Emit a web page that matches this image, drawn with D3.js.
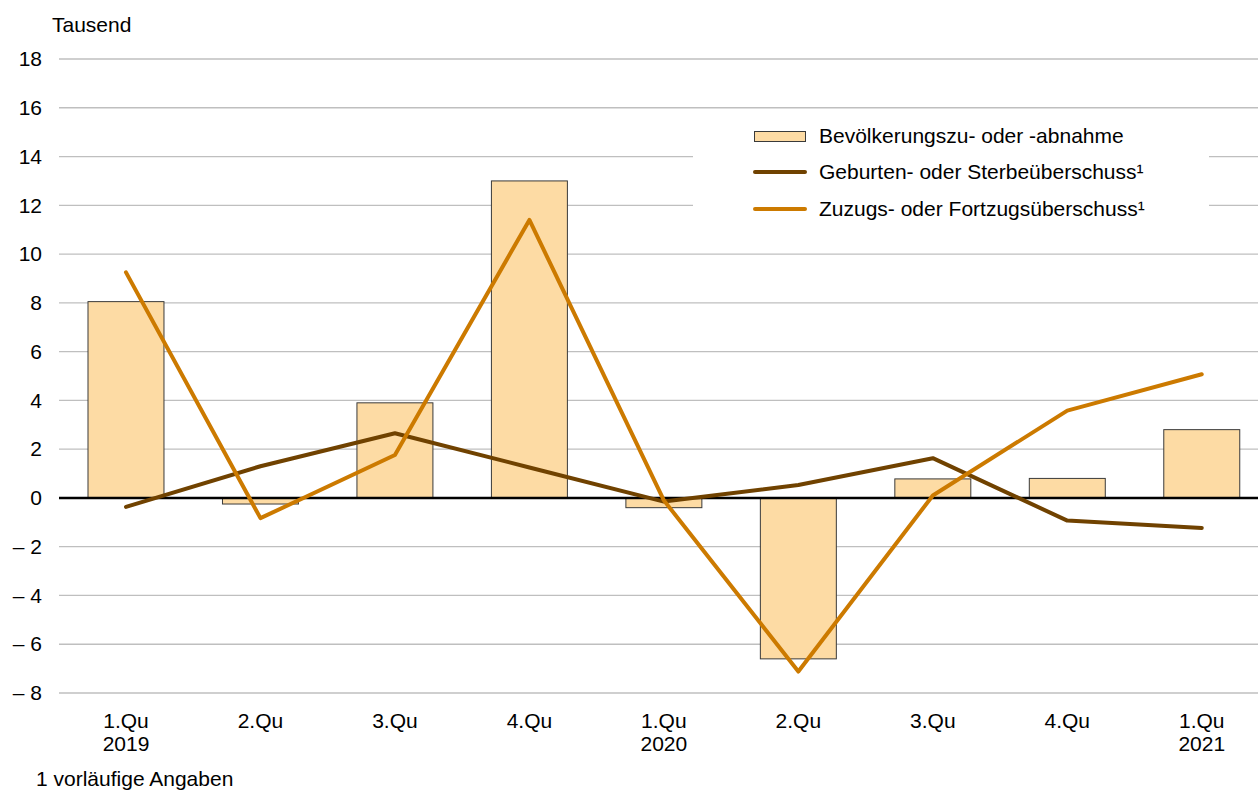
<!DOCTYPE html>
<html>
<head>
<meta charset="utf-8">
<script src="https://cdn.jsdelivr.net/npm/d3@7"></script>
<style>
  body { margin: 0; background: #fff; }
  svg { display: block; font-family: "Liberation Sans", Arial, sans-serif; }
</style>
</head>
<body>
<svg id="chart"></svg>
<script>
// data (Tausend)
const quarters = ['1.Qu', '2.Qu', '3.Qu', '4.Qu', '1.Qu', '2.Qu', '3.Qu', '4.Qu', '1.Qu'];
const years = ['2019', '', '', '', '2020', '', '', '', '2021'];
const bevoelkerung = [8.05, -0.25, 3.9, 13.0, -0.4, -6.6, 0.78, 0.8, 2.8];
const geburten = [-0.37, 1.3, 2.65, 1.25, -0.15, 0.53, 1.63, -0.93, -1.23];
const zuzug = [9.25, -0.83, 1.76, 11.4, -0.1, -7.12, 0.1, 3.58, 5.07];
const yTicks = [-8, -6, -4, -2, 0, 2, 4, 6, 8, 10, 12, 14, 16, 18];
const legendLabels = ['Bevölkerungszu- oder -abnahme', 'Geburten- oder Sterbeüberschuss¹', 'Zuzugs- oder Fortzugsüberschuss¹'];

const width = 1258, height = 790;
const fontSize = 21;
const colors = { bar: '#FDDBA4', dark: '#704200', orange: '#CC7A00', grid: '#BFBFBF' };

let svg = d3.select('#chart').attr('width', width).attr('height', height);

let idx = d3.range(quarters.length);
let xScale = d3.scaleBand()
    .domain(idx)
    .range([58.75, 1269])
    .paddingInner(0.435)
    .paddingOuter(0.2175);
let yScale = d3.scaleLinear()
    .domain([-8, 18])
    .range([693, 59]);

// gridlines
svg.append('g')
    .selectAll('line')
    .data(yTicks.filter(d => d !== 0))
    .join('line')
    .attr('x1', 59).attr('x2', width)
    .attr('y1', d => yScale(d)).attr('y2', d => yScale(d))
    .attr('stroke', colors.grid)
    .attr('stroke-width', 1.3);

// y axis labels
let yAxis = d3.axisLeft(yScale)
    .tickValues(yTicks)
    .tickSize(0)
    .tickPadding(0)
    .tickFormat(d => d < 0 ? '\u2013 ' + Math.abs(d) : String(d));
let yg = svg.append('g')
    .attr('transform', 'translate(42, 0)')
    .call(yAxis);
yg.select('.domain').remove();
yg.selectAll('text')
    .attr('font-size', fontSize)
    .attr('font-family', '"Liberation Sans", Arial, sans-serif')
    .attr('fill', '#000');

svg.append('text')
    .attr('x', 52).attr('y', 32)
    .attr('font-size', fontSize)
    .text('Tausend');

// legend background hides gridlines
svg.append('rect')
    .attr('x', 693).attr('y', 116)
    .attr('width', 516).attr('height', 112)
    .attr('fill', '#fff');

// bars
let bx = i => xScale(i) + xScale.bandwidth() / 2;
svg.append('g')
    .selectAll('rect')
    .data(bevoelkerung)
    .join('rect')
    .attr('x', (d, i) => xScale(i))
    .attr('width', xScale.bandwidth())
    .attr('y', d => yScale(Math.max(0, d)))
    .attr('height', d => Math.abs(yScale(d) - yScale(0)))
    .attr('fill', colors.bar)
    .attr('stroke', '#3a3a3a')
    .attr('stroke-width', 1);

// zero line
svg.append('line')
    .attr('x1', 59).attr('x2', width)
    .attr('y1', yScale(0)).attr('y2', yScale(0))
    .attr('stroke', '#000')
    .attr('stroke-width', 2.5);

let lineGen = d3.line()
    .x((d, i) => bx(i))
    .y(d => yScale(d));

svg.append('path')
    .attr('d', lineGen(geburten))
    .attr('stroke', colors.dark)
    .attr('stroke-width', 4)
    .attr('stroke-linecap', 'round')
    .attr('stroke-linejoin', 'round')
    .attr('fill', 'none');

svg.append('path')
    .attr('d', lineGen(zuzug))
    .attr('stroke', colors.orange)
    .attr('stroke-width', 4)
    .attr('stroke-linecap', 'round')
    .attr('stroke-linejoin', 'round')
    .attr('fill', 'none');

// x axis labels
let xAxis = d3.axisBottom(xScale)
    .tickSize(0)
    .tickPadding(0)
    .tickFormat(i => quarters[i]);
let xg = svg.append('g')
    .attr('transform', 'translate(0, 713)')
    .call(xAxis);
xg.select('.domain').remove();
xg.selectAll('text')
    .attr('font-size', fontSize)
    .attr('font-family', '"Liberation Sans", Arial, sans-serif')
    .attr('fill', '#000')
    .attr('dy', '0.71em');

svg.append('g')
    .selectAll('text')
    .data(years)
    .join('text')
    .attr('x', (d, i) => bx(i))
    .attr('y', 751)
    .attr('text-anchor', 'middle')
    .attr('font-size', fontSize)
    .text(d => d);

// legend
let lg = svg.append('g');
lg.append('rect')
    .attr('x', 754.5).attr('y', 131.5)
    .attr('width', 51).attr('height', 10)
    .attr('fill', colors.bar)
    .attr('stroke', '#3a3a3a')
    .attr('stroke-width', 1);
lg.append('line')
    .attr('x1', 755).attr('x2', 805)
    .attr('y1', 172).attr('y2', 172)
    .attr('stroke', colors.dark).attr('stroke-width', 4).attr('stroke-linecap', 'round');
lg.append('line')
    .attr('x1', 755).attr('x2', 805)
    .attr('y1', 209).attr('y2', 209)
    .attr('stroke', colors.orange).attr('stroke-width', 4).attr('stroke-linecap', 'round');
lg.selectAll('text')
    .data(legendLabels)
    .join('text')
    .attr('x', 819)
    .attr('y', (d, i) => [136, 172, 209][i])
    .attr('dy', '0.35em')
    .attr('font-size', fontSize)
    .text(d => d);

// footnote
svg.append('text')
    .attr('x', 36).attr('y', 786)
    .attr('font-size', fontSize)
    .text('1 vorläufige Angaben');
</script>
</body>
</html>
